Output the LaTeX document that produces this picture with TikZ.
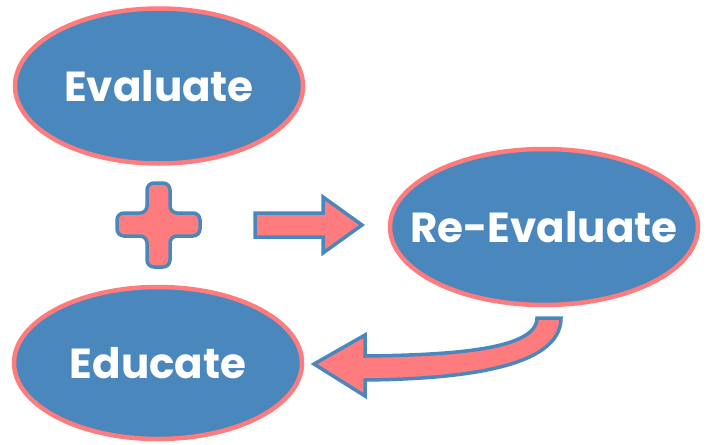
\documentclass[tikz,border=0pt]{standalone}
\usepackage{fontspec}
\setmainfont{Poppins}
\usetikzlibrary{shapes.geometric}
\definecolor{bub}{HTML}{4A87BC}
\definecolor{pnk}{HTML}{FF7C7E}
\tikzset{
  bubble/.style={ellipse, fill=bub, draw=pnk, line width=4.5pt, text=white,
    font=\fontsize{42}{44}\selectfont\bfseries, inner xsep=-80pt, inner ysep=-30pt},
  fatshape/.style={fill=pnk, draw=bub, line width=3.5pt, line join=miter}
}
\begin{document}
\begin{tikzpicture}[x=1pt,y=-1pt]
\useasboundingbox (0,0) rectangle (711,444);
\node[bubble, minimum width=288pt, minimum height=155pt] (eval) at (159,86) {Evaluate};
\node[bubble, minimum width=308pt, minimum height=156pt] (reeval) at (544,227) {Re-Evaluate};
\node[bubble, minimum width=288pt, minimum height=152pt] (educ) at (158,363) {Educate};
% plus sign
\draw[fatshape, rounded corners=7pt] (147,183) -- (170,183) -- (170,213) -- (200,213) -- (200,236) -- (170,236) -- (170,267) -- (147,267) -- (147,236) -- (117,236) -- (117,213) -- (147,213) -- cycle;
% right arrow
\draw[fatshape] (255,213) -- (323,213) -- (323,197) -- (362,225) -- (323,253) -- (323,237) -- (255,237) -- cycle;
% curved arrow from Re-Evaluate to Educate
\draw[fatshape] (561,318) .. controls (561,368) and (460,379) .. (365,380) -- (365,396) -- (314,364) -- (365,335) -- (365,356) .. controls (450,355) and (537,350) .. (537,318) -- cycle;
\end{tikzpicture}
\end{document}
